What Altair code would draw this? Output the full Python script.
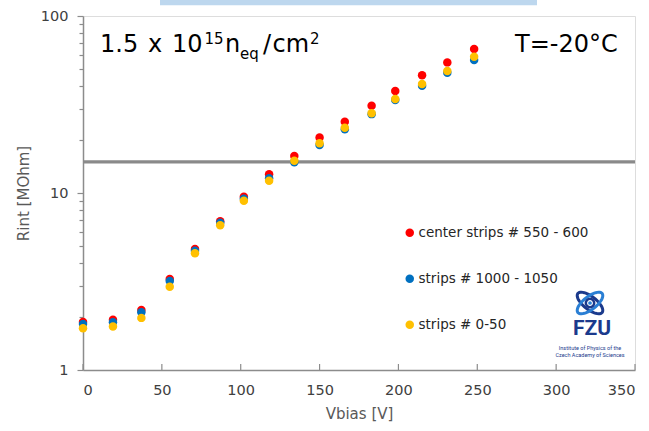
import math
import altair as alt
import pandas as pd

# ---------------- data ----------------
vbias = [0, 19, 37, 55, 71, 87, 102, 118, 134, 150, 166, 183, 198, 215, 231, 248]
rint_center = [1.87, 1.92, 2.18, 3.27, 4.83, 6.92, 9.53, 12.75, 16.2, 20.6, 25.3, 31.1, 37.7, 46.2, 54.7, 65.1]
rint_1000 = [1.82, 1.86, 2.12, 3.18, 4.72, 6.80, 9.29, 12.1, 14.9, 18.7, 22.9, 27.9, 33.5, 40.4, 47.8, 56.4]
rint_0_50 = [1.72, 1.76, 1.97, 2.95, 4.56, 6.57, 9.05, 11.74, 15.2, 19.1, 23.4, 28.2, 34.0, 41.3, 48.9, 58.9]
series_names = ["center strips # 550 - 600", "strips # 1000 - 1050", "strips # 0-50"]
series_colors = ["#FF0000", "#0070C0", "#FFC000"]
x_ticks = [0, 50, 100, 150, 200, 250, 300, 350]
y_ticks = [1, 2, 3, 4, 5, 6, 7, 8, 9, 10, 20, 30, 40, 50, 60, 70, 80, 90, 100]
threshold = 15

rows = []
for name, vals in zip(series_names, [rint_center, rint_1000, rint_0_50]):
    for v, r in zip(vbias, vals):
        rows.append({"Vbias": v, "Rint": r, "series": name})
df = pd.DataFrame(rows)

W, H = 552, 354
FONT = "DejaVu Sans"
AXIS_GRAY = "#8c8c8c"

x_scale = alt.Scale(domain=[0, 350], nice=False, zero=False)
y_scale = alt.Scale(type="log", domain=[1, 100], nice=False)

x_axis = alt.Axis(values=x_ticks, ticks=False, grid=False, title="Vbias [V]",
                  labelPadding=13, titlePadding=10, domainColor=AXIS_GRAY, domainWidth=1.5,
                  labelFont=FONT, labelFontSize=14.5, labelColor="#404040",
                  titleFont=FONT, titleFontSize=15, titleFontWeight="normal", titleColor="#595959")
y_axis = alt.Axis(values=y_ticks, grid=False, title="Rint [MOhm]",
                  labelExpr="(datum.value == 1 || datum.value == 10 || datum.value == 100) ? datum.label : ''",
                  labelOverlap=False, format="d",
                  tickSize={"condition": {"test": "datum.value == 1 || datum.value == 10 || datum.value == 100", "value": 6}, "value": 4},
                  tickColor=AXIS_GRAY, tickWidth=1.2, labelPadding=9, titlePadding=9,
                  domainColor=AXIS_GRAY, domainWidth=1.5,
                  labelFont=FONT, labelFontSize=14.5, labelColor="#404040",
                  titleFont=FONT, titleFontSize=15, titleFontWeight="normal", titleColor="#595959")

points = alt.Chart(df).mark_circle(size=72, opacity=1).encode(
    x=alt.X("Vbias:Q", scale=x_scale, axis=x_axis),
    y=alt.Y("Rint:Q", scale=y_scale, axis=y_axis),
    color=alt.Color("series:N", scale=alt.Scale(domain=series_names, range=series_colors),
                    legend=alt.Legend(title=None, orient="none", legendX=320, legendY=210,
                                      symbolType="circle", symbolSize=72, symbolStrokeWidth=0,
                                      labelFont=FONT, labelFontSize=13.5, labelColor="#262626",
                                      rowPadding=31, padding=0, labelLimit=300, labelOffset=2)),
)

thr = alt.Chart(alt.Data(values=[{}])).mark_rule(color="#8a8a8a", strokeWidth=3.2).encode(
    y=alt.datum(threshold, scale=y_scale)
)

xticks = alt.Chart(pd.DataFrame({"t": x_ticks})).mark_rule(color=AXIS_GRAY, strokeWidth=1.2).encode(
    x=alt.X("t:Q", scale=x_scale, axis=x_axis),
    y=alt.value(H),
    y2=alt.value(H - 6),
)


def txt(s, px, py, size=24, color="black", align="left", weight="normal", font=FONT):
    return alt.Chart(alt.Data(values=[{}])).mark_text(
        text=s, align=align, baseline="alphabetic", fontSize=size, color=color,
        font=font, fontWeight=weight
    ).encode(x=alt.value(px - 83), y=alt.value(py - 16))


annots = [
    txt("1.5", 100, 52.3),
    txt("x", 148, 52.3),
    txt("10", 172, 52.3),
    txt("15", 204.5, 44, size=15),
    txt("n", 225, 52.3),
    txt("eq", 240, 58.5, size=15),
    txt("/", 263, 52.3),
    txt("cm", 272.5, 52.3),
    txt("2", 310, 44, size=15),
    txt("T=-20°C", 515, 52.3),
]

# decorative top bar
top_bar = alt.Chart(alt.Data(values=[{}])).mark_rect(color="#BDD7EE").encode(
    x=alt.value(160 - 83), x2=alt.value(537 - 83), y=alt.value(-16), y2=alt.value(5.3 - 16)
)


# FZU logo (approximation)
def ellipse_path(rx, ry, ang, n=48):
    a = math.radians(ang)
    pts = []
    for i in range(n):
        t = 2 * math.pi * i / n
        ex, ey = rx * math.cos(t), ry * math.sin(t)
        pts.append((ex * math.cos(a) - ey * math.sin(a), ex * math.sin(a) + ey * math.cos(a)))
    return "M" + " L".join(f"{px:.3f},{py:.3f}" for px, py in pts) + " Z"


NAVY = "#1B3A8C"
LBLUE = "#2A7FD4"
cx, cy = 590 - 83, 303 - 16


def logo_pt(shape, size, color, sw, filled=False):
    return alt.Chart(alt.Data(values=[{}])).mark_point(
        shape=shape, size=size, filled=filled, color=color, strokeWidth=sw, opacity=1
    ).encode(x=alt.value(cx), y=alt.value(cy))


logo = [
    logo_pt(ellipse_path(1, 0.42, 38), 950, NAVY, 3),
    logo_pt(ellipse_path(1, 0.42, -38), 950, LBLUE, 3),
    logo_pt("circle", 70, NAVY, 2.5),
    logo_pt("circle", 14, LBLUE, 1, filled=True),
    txt("FZU", 592, 335, size=21, color=NAVY, align="center", weight="bold", font="Roboto"),
    txt("Institute of Physics of the", 590, 350, size=5.5, color=NAVY, align="center", font="Roboto"),
    txt("Czech Academy of Sciences", 590, 357, size=5.5, color=NAVY, align="center", font="Roboto"),
]

chart = alt.layer(top_bar, thr, xticks, points, *annots, *logo).properties(
    width=W, height=H,
    autosize=alt.AutoSizeParams(type="none"),
    padding={"left": 83, "top": 16, "right": 14, "bottom": 61},
).configure_view(stroke="#a0a0a0", strokeWidth=1.5).configure(background="white")

chart.save("out.html", embed_options={"renderer": "svg", "actions": False})
